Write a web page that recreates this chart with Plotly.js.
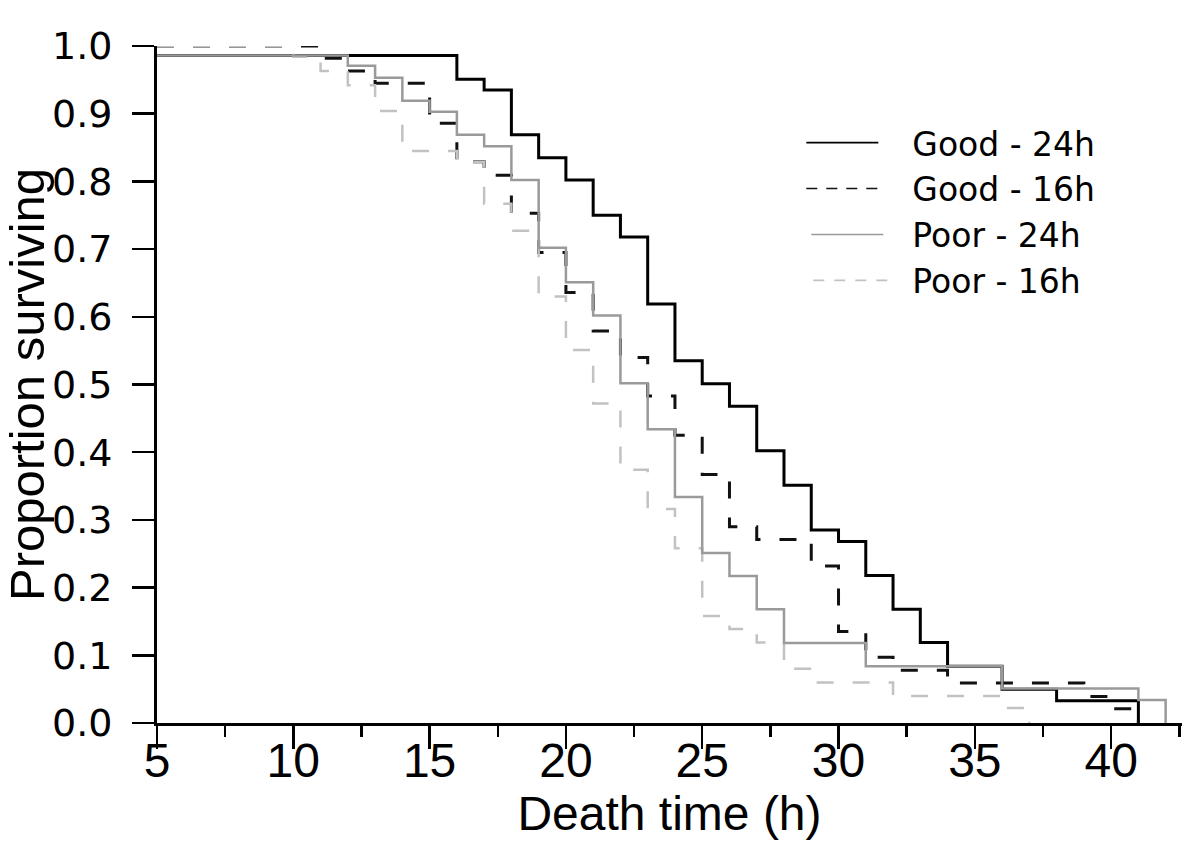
<!DOCTYPE html>
<html>
<head>
<meta charset="utf-8">
<script src="https://cdn.plot.ly/plotly-3.0.1.min.js"></script>
<style>html,body{margin:0;padding:0;background:#fff;}#chart{width:1200px;height:867px;}</style>
</head>
<body>
<div id="chart"></div>
<script>
// Series names
const seriesNames = ['Good - 24h', 'Good - 16h', 'Poor - 24h', 'Poor - 16h'];

// Good - 24h : step times (h) and proportion surviving after each step
const good24X = [5, 16, 17, 18, 19, 20, 21, 22, 23, 24, 25, 26, 27, 28, 29, 30, 31, 32, 33, 34, 36, 38, 41];
const good24Y = [0.986, 0.951, 0.935, 0.869, 0.835, 0.802, 0.750, 0.718, 0.619, 0.535, 0.501, 0.468, 0.402, 0.351, 0.285, 0.268, 0.218, 0.168, 0.119, 0.084, 0.050, 0.033, 0];

// Good - 16h
const good16X = [5, 11, 12, 13, 15, 16, 17, 18, 19, 20, 21, 22, 23, 24, 25, 26, 27, 29, 30, 31, 32, 34, 39, 40, 41];
const good16Y = [1.0, 0.982, 0.963, 0.945, 0.886, 0.829, 0.809, 0.753, 0.695, 0.636, 0.579, 0.540, 0.483, 0.425, 0.367, 0.290, 0.271, 0.232, 0.135, 0.097, 0.078, 0.059, 0.039, 0.021, 0];

// Poor - 24h
const poor24X = [5, 12, 13, 14, 15, 16, 17, 18, 19, 20, 21, 22, 23, 24, 25, 26, 27, 28, 31, 36, 41, 42];
const poor24Y = [0.986, 0.971, 0.953, 0.919, 0.903, 0.869, 0.852, 0.802, 0.702, 0.651, 0.602, 0.502, 0.434, 0.334, 0.251, 0.217, 0.168, 0.118, 0.084, 0.051, 0.034, 0];

// Poor - 16h
const poor16X = [5, 10, 11, 12, 13, 14, 16, 17, 18, 19, 20, 21, 22, 23, 24, 25, 26, 27, 28, 29, 32, 36, 37];
const poor16Y = [1.0, 0.984, 0.963, 0.942, 0.904, 0.845, 0.829, 0.767, 0.727, 0.630, 0.551, 0.472, 0.374, 0.316, 0.258, 0.158, 0.139, 0.119, 0.080, 0.060, 0.040, 0.022, 0];

const styles = [
  {color: '#000000', width: 3,   dash: 'solid',     legDash: '72px,400px'},
  {color: '#111111', width: 3,   dash: '17px,19px', legDash: '11px,9px,11px,9px,11px,9px,11px,400px'},
  {color: '#9a9a9a', width: 2.5, dash: 'solid',     legDash: '0px,5px,72px,400px'},
  {color: '#c2c2c2', width: 2.5, dash: '17px,19px', legDash: '0px,7px,11px,10px,11px,10px,11px,10px,11px,400px'}
];

const xs = [good24X, good16X, poor24X, poor16X];
const ys = [good24Y, good16Y, poor24Y, poor16Y];
const drawOrder = [0, 1, 3, 2];

const traces = [];
drawOrder.forEach(function (i) {
  traces.push({
    type: 'scatter', mode: 'lines', x: xs[i], y: ys[i], name: seriesNames[i],
    line: {shape: 'hv', color: styles[i].color, width: styles[i].width, dash: styles[i].dash},
    showlegend: false, hoverinfo: 'x+y+name'
  });
});
// legend entries (thin line samples, as in the original)
[0, 1, 2, 3].forEach(function (i) {
  traces.push({
    type: 'scatter', mode: 'lines', x: [null], y: [null], name: seriesNames[i],
    legendgroup: 'g' + i,
    line: {color: styles[i].color, width: 1.6, dash: styles[i].legDash},
    showlegend: true, hoverinfo: 'skip'
  });
});

const layout = {
  width: 1200, height: 867,
  margin: {l: 157, r: 18, t: 46, b: 144, pad: 0},
  paper_bgcolor: '#ffffff', plot_bgcolor: '#ffffff',
  showlegend: true,
  legend: {
    x: 0.6286, y: 0.8985, xanchor: 'left', yanchor: 'top',
    font: {family: 'DejaVu Sans', size: 33, color: '#000'},
    bgcolor: 'rgba(0,0,0,0)', borderwidth: 0, itemwidth: 101, tracegroupgap: 4,
    traceorder: 'normal'
  },
  xaxis: {
    range: [5, 42.6], tick0: 5, dtick: 5, tickmode: 'linear',
    ticks: 'outside', ticklen: 23, tickwidth: 2.5, tickcolor: '#000',
    showline: true, linewidth: 3, linecolor: '#000', mirror: false,
    showgrid: false, zeroline: false,
    ticklabelstandoff: -30,
    tickfont: {family: 'Liberation Sans, sans-serif', size: 48, color: '#000'},
    minor: {tick0: 5, dtick: 2.5, ticks: 'outside', ticklen: 11, tickwidth: 2.5, tickcolor: '#000', showgrid: false},
    title: {text: 'Death time (h)', font: {family: 'Liberation Sans, sans-serif', size: 48, color: '#000'}, standoff: 0}
  },
  yaxis: {
    range: [0, 1], tick0: 0, dtick: 0.1, tickmode: 'linear', tickformat: '.1f',
    ticks: 'outside', ticklen: 22, tickwidth: 2.5, tickcolor: '#000',
    showline: true, linewidth: 3, linecolor: '#000',
    showgrid: false, zeroline: false,
    ticklabelstandoff: 12,
    tickfont: {family: 'DejaVu Sans, sans-serif', size: 38, color: '#000'},
    title: {text: 'Proportion surviving', font: {family: 'Liberation Sans, sans-serif', size: 49, color: '#000'}, standoff: 6}
  }
};

Plotly.newPlot('chart', traces, layout, {displayModeBar: false, staticPlot: true});
</script>
</body>
</html>
